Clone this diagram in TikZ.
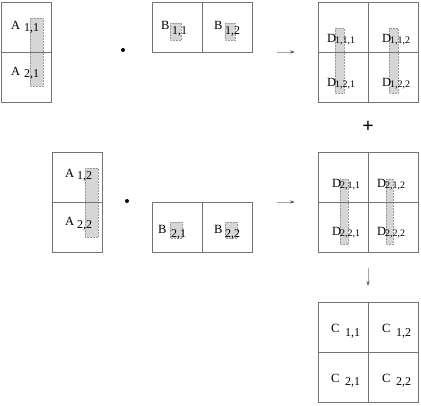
\documentclass[tikz,border=0pt]{standalone}
\usepackage{fontspec}
\setmainfont{Liberation Serif}
\usetikzlibrary{arrows.meta}
\tikzset{
  cell/.style={draw=black!55, line width=0.8pt, minimum width=50pt, minimum height=50pt, inner sep=0pt, outer sep=0pt},
  shadebox/.style={fill=black!16, draw=black!40, densely dotted, line width=0.5pt},
  lbl/.style={anchor=base west, inner sep=0pt, outer sep=0pt, font=\fontsize{12.5}{12.5}\selectfont},
  sub/.style={anchor=base west, inner sep=0pt, outer sep=0pt, font=\fontsize{12}{12}\selectfont},
  dsub/.style={anchor=base west, inner sep=0pt, outer sep=0pt, font=\fontsize{10}{10}\selectfont},
  conn/.style={draw=black!35, line width=0.6pt, -{Stealth[length=5pt,width=3.2pt,color=black!65]}},
  dotmark/.style={circle, fill=black, inner sep=0pt, minimum size=4pt},
}
\begin{document}
\begin{tikzpicture}[x=1pt,y=-1pt]
\useasboundingbox (0,0) rectangle (421,405);

% shaded strips
\path[shadebox] (30,18) rectangle (43,86);
\path[shadebox] (85,168) rectangle (98,237);
\path[shadebox] (170,23) rectangle (181,40);
\path[shadebox] (225,23) rectangle (235,40);
\path[shadebox] (170,222) rectangle (182,238);
\path[shadebox] (225,222) rectangle (237,238);
\path[shadebox] (335,28) rectangle (344,93);
\path[shadebox] (389,28) rectangle (398,93);
\path[shadebox] (340,179) rectangle (348,244);
\path[shadebox] (386,179) rectangle (393,244);

% matrix cells
\node[cell] (A11) at (26.5,27) {};
\node[cell] (A21) at (26.5,77) {};
\node[cell] (A12) at (77,177) {};
\node[cell] (A22) at (77,227) {};
\node[cell] (B11) at (177,27) {};
\node[cell] (B12) at (227,27) {};
\node[cell] (B21) at (177,227) {};
\node[cell] (B22) at (227,227) {};
\node[cell] (D111) at (343,27) {};
\node[cell] (D112) at (393.5,27) {};
\node[cell] (D121) at (343,77) {};
\node[cell] (D122) at (393.5,77) {};
\node[cell] (D211) at (343,177) {};
\node[cell] (D212) at (393.5,177) {};
\node[cell] (D221) at (343,227) {};
\node[cell] (D222) at (393.5,227) {};
\node[cell] (C11) at (343,327) {};
\node[cell] (C12) at (393,327) {};
\node[cell] (C21) at (343,377.5) {};
\node[cell] (C22) at (393,377.5) {};

% labels A
\node[lbl] (tA11) at (11,29) {A};  \node[sub] (sA11) at (24,31) {1,1};
\node[lbl] (tA21) at (11,75) {A};  \node[sub] (sA21) at (24,77) {2,1};
\node[lbl] (tA12) at (65,177) {A}; \node[sub] (sA12) at (77,179) {1,2};
\node[lbl] (tA22) at (65,225) {A}; \node[sub] (sA22) at (77,228) {2,2};
% labels B
\node[lbl] (tB11) at (161,29) {B};  \node[sub] (sB11) at (172,34) {1,1};
\node[lbl] (tB12) at (214,29) {B};  \node[sub] (sB12) at (225,34) {1,2};
\node[lbl] (tB21) at (158,233) {B}; \node[sub] (sB21) at (171,237) {2,1};
\node[lbl] (tB22) at (214,233) {B}; \node[sub] (sB22) at (225,237) {2,2};
% labels D
\node[lbl] (tD111) at (327,42) {D}; \node[dsub] (sD111) at (335,43) {1,1,1};
\node[lbl] (tD112) at (382,42) {D}; \node[dsub] (sD112) at (390,43) {1,1,2};
\node[lbl] (tD121) at (327,86) {D}; \node[dsub] (sD121) at (335,87) {1,2,1};
\node[lbl] (tD122) at (382,86) {D}; \node[dsub] (sD122) at (390,87) {1,2,2};
\node[lbl] (tD211) at (332,187) {D}; \node[dsub] (sD211) at (340,188) {2,1,1};
\node[lbl] (tD212) at (377,187) {D}; \node[dsub] (sD212) at (385,188) {2,1,2};
\node[lbl] (tD221) at (332,235) {D}; \node[dsub] (sD221) at (340,236) {2,2,1};
\node[lbl] (tD222) at (377,235) {D}; \node[dsub] (sD222) at (385,236) {2,2,2};
% labels C
\node[lbl] (tC11) at (331,332) {C}; \node[sub] (sC11) at (345,336) {1,1};
\node[lbl] (tC12) at (382,332) {C}; \node[sub] (sC12) at (396,336) {1,2};
\node[lbl] (tC21) at (331,382) {C}; \node[sub] (sC21) at (345,385) {2,1};
\node[lbl] (tC22) at (382,382) {C}; \node[sub] (sC22) at (396,385) {2,2};

% operators
\node[dotmark] (dot1) at (123,50) {};
\node[dotmark] (dot2) at (127,201) {};
\node[inner sep=0pt, font=\fontsize{20}{20}\selectfont\bfseries] (plus) at (368,127) {+};

% arrows
\coordinate (r1s) at (277,52);  \coordinate (r1e) at (295,52);
\coordinate (r2s) at (277,202); \coordinate (r2e) at (295,202);
\coordinate (dns) at (368,268); \coordinate (dne) at (368,286);
\draw[conn] (r1s) -- (r1e);
\draw[conn] (r2s) -- (r2e);
\draw[conn] (dns) -- (dne);
\end{tikzpicture}
\end{document}
